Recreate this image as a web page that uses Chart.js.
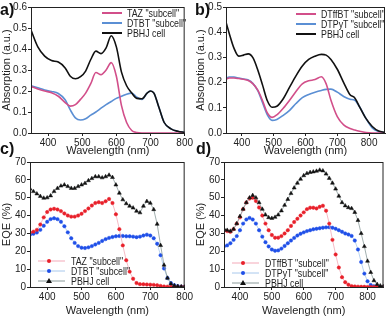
<!DOCTYPE html>
<html lang="en">
<head>
<meta charset="UTF-8" />
<title>Absorption and EQE</title>
<script src="https://cdn.jsdelivr.net/npm/chart.js"></script>
<style>
  body { margin: 0; background: #fff; font-family: "Liberation Sans", Arial, sans-serif; }
  #wrap { position: relative; width: 388px; height: 318px; overflow: hidden; }
  canvas { position: absolute; }
  .tag { position: absolute; font-weight: bold; font-size: 16px; color: #111; }
  .leg { position: absolute; font-size: 10.5px; color: #222; line-height: 10px; white-space: nowrap; }
  .leg div { height: 10px; display: flex; align-items: center; }
  .leg svg { margin-right: 3px; flex: none; }
  .leg span { display: inline-block; transform: scaleX(0.84); transform-origin: left center; }
</style>
</head>
<body>
<div id="wrap">
  <canvas id="chartA" width="194" height="158" style="left:0;top:0"></canvas>
  <canvas id="chartB" width="194" height="158" style="left:194px;top:0"></canvas>
  <canvas id="chartC" width="194" height="163" style="left:0;top:155px"></canvas>
  <canvas id="chartD" width="194" height="163" style="left:194px;top:155px"></canvas>

  <div class="tag" style="left:0;top:1px">a)</div>
  <div class="tag" style="left:195px;top:1px">b)</div>
  <div class="tag" style="left:0;top:140px">c)</div>
  <div class="tag" style="left:196px;top:140px">d)</div>

  <div class="leg" id="legA" style="left:102px;top:8px"></div>
  <div class="leg" id="legB" style="left:296px;top:9px"></div>
  <div class="leg" id="legC" style="left:38px;top:256px"></div>
  <div class="leg" id="legD" style="left:232px;top:258px"></div>
</div>

<script>
  // a) absorption, TAZ / DTBT
  const wlA = [350, 370, 390, 410, 430, 450, 465, 480, 495, 510, 525, 540, 555, 570, 585, 600, 615, 630, 645, 660, 675, 690, 700, 710, 725, 740, 760, 780, 800];
  const tazAbs = [0.221, 0.21, 0.2, 0.192, 0.175, 0.145, 0.128, 0.135, 0.16, 0.19, 0.235, 0.288, 0.278, 0.3, 0.335, 0.27, 0.13, 0.05, 0.012, 0.002, 0, 0, 0, 0, 0, 0, 0, 0, 0];
  const dtbtAbs = [0.225, 0.215, 0.205, 0.198, 0.188, 0.158, 0.11, 0.072, 0.062, 0.068, 0.085, 0.1, 0.118, 0.135, 0.15, 0.165, 0.175, 0.185, 0.19, 0.17, 0.16, 0.19, 0.2, 0.19, 0.12, 0.05, 0.02, 0.008, 0.003];
  const pbhjAbsA = [0.49, 0.41, 0.366, 0.345, 0.338, 0.31, 0.27, 0.258, 0.268, 0.295, 0.35, 0.39, 0.378, 0.405, 0.463, 0.41, 0.29, 0.225, 0.19, 0.165, 0.163, 0.19, 0.2, 0.19, 0.12, 0.05, 0.02, 0.008, 0.003];

  // b) absorption, DTffBT / DTPyT
  const wlB = [350, 360, 375, 390, 405, 420, 435, 450, 465, 480, 495, 510, 530, 550, 570, 590, 610, 630, 650, 665, 680, 700, 720, 740, 755, 770, 790, 810, 830, 850];
  const dtffbtAbs = [0.214, 0.218, 0.218, 0.216, 0.213, 0.208, 0.195, 0.17, 0.128, 0.08, 0.062, 0.072, 0.098, 0.13, 0.165, 0.195, 0.207, 0.212, 0.223, 0.195, 0.13, 0.065, 0.032, 0.018, 0.012, 0.007, 0.002, 0, 0, 0];
  const dtpytAbs = [0.218, 0.222, 0.222, 0.218, 0.214, 0.21, 0.196, 0.168, 0.12, 0.072, 0.05, 0.054, 0.07, 0.09, 0.117, 0.14, 0.153, 0.162, 0.169, 0.173, 0.174, 0.162, 0.145, 0.134, 0.13, 0.104, 0.058, 0.02, 0.006, 0.002];
  const pbhjAbsB = [0.44, 0.396, 0.337, 0.305, 0.309, 0.314, 0.298, 0.25, 0.19, 0.128, 0.102, 0.106, 0.136, 0.182, 0.227, 0.266, 0.292, 0.305, 0.312, 0.309, 0.292, 0.253, 0.2, 0.152, 0.139, 0.104, 0.058, 0.026, 0.008, 0.003];

  // c) EQE, TAZ / DTBT
  const wlC = [350, 360, 370, 380, 390, 400, 410, 420, 430, 440, 450, 460, 470, 480, 490, 500, 510, 520, 530, 540, 550, 560, 570, 580, 590, 600, 610, 620, 630, 640, 650, 660, 670, 680, 690, 700, 710, 720, 730, 740, 750, 760, 770, 780, 790, 800];
  const tazEqe = [30.5, 31, 32, 35, 39, 42, 43.4, 43.8, 43.4, 42.5, 41.2, 40, 39.4, 39.4, 40, 41, 42.5, 44, 45.6, 47, 47.5, 47, 48, 49.3, 47, 40.7, 32.4, 23.3, 15, 8.6, 4.6, 2.2, 1.6, 1.5, 1.4, 1.3, 1.2, 1, 0.6, 0.3, 0.2, 0.1, 0.1, 0, 0, 0];
  const dtbtEqe = [29.3, 29.8, 30.5, 32, 34.3, 36.5, 38, 38.5, 38, 36.5, 34, 30.6, 27.3, 24.7, 22.9, 22, 21.8, 22.2, 22.9, 23.8, 24.7, 25.8, 26.8, 27.5, 28, 28.4, 28.6, 28.6, 28.4, 28.4, 28.2, 27.9, 28.2, 28.8, 29.3, 28.8, 27.3, 24.2, 17.8, 10.4, 5, 2.2, 1, 0.5, 0.2, 0];
  const pbhjEqeC = [55, 53.5, 52.2, 50.8, 49.8, 50, 51.1, 53.5, 55.3, 56.6, 57.2, 56.3, 55.3, 55.3, 56.3, 57.2, 58.1, 59.6, 60.8, 61.8, 61.8, 61.2, 61.8, 62.7, 61.4, 57.2, 52.6, 48.9, 46.7, 45.3, 44.3, 42.5, 41.6, 45.3, 48, 47, 43.4, 35.2, 23.3, 12.3, 5, 1.8, 0.8, 0.4, 0.2, 0.1];

  // d) EQE, DTffBT / DTPyT
  const wlD = [350, 360, 370, 380, 390, 400, 410, 420, 430, 440, 450, 460, 470, 480, 490, 500, 510, 520, 530, 540, 550, 560, 570, 580, 590, 600, 610, 620, 630, 640, 650, 660, 670, 680, 690, 700, 710, 720, 730, 740, 750, 760, 770, 780, 790, 800, 810, 820, 830, 840, 850];
  const dtffbtEqe = [31.5, 31.3, 30.9, 32.4, 35.5, 39, 43.6, 47.3, 49.5, 50, 48.2, 44.5, 40, 35.5, 31.8, 29.1, 27.6, 27.6, 28.5, 30, 31.8, 34.2, 36.4, 38.2, 40, 41.8, 43.6, 44.4, 44.4, 44, 44.9, 45.5, 42.7, 35.5, 26.4, 18.2, 10.9, 5.5, 2.7, 1.3, 0.5, 0.3, 0.2, 0.1, 0.1, 0, 0, 0, 0, 0, 0];
  const dtpytEqe = [22.8, 23.3, 24.5, 26.4, 28.5, 31.8, 35.5, 37.8, 38.7, 37.8, 35.5, 31.8, 28.2, 25.1, 22.7, 21, 20.3, 20.5, 21.5, 23, 24.5, 26, 27.5, 28.8, 29.8, 30.6, 31.3, 31.8, 32.3, 32.6, 32.9, 33.2, 33.4, 33.5, 33.2, 32.6, 31.8, 30.9, 30, 29.4, 28.6, 26, 21, 14, 7.5, 3.2, 1.1, 0.4, 0.1, 0, 0];
  const pbhjEqeD = [32.5, 31.8, 31.3, 32.4, 35.5, 39.6, 43.6, 47.3, 50, 51.3, 50, 47.3, 43.6, 40.4, 38.9, 38.5, 39.1, 40.4, 42.7, 45.8, 49.1, 52.4, 55.5, 58.2, 60.4, 62.4, 63.6, 64.2, 64.5, 64.9, 65.5, 65.1, 63.3, 60.9, 58.2, 54.9, 50.9, 47.3, 45.5, 44.5, 44, 41.8, 37.3, 30, 22.7, 14.5, 8.2, 3.6, 1.5, 0.7, 0.4];

  const xTicksShort = [400, 500, 600, 700, 800];

  Chart.defaults.font.family = '"Liberation Sans", Arial, sans-serif';
  Chart.defaults.color = '#222';

  const pink = '#d24f8a', lightBlue = '#5b8fd4', black = '#111';
  const red = '#e8202a', blue = '#1f4fe8';

  // draw the box round the plot
  const frame = {
    id: 'frame',
    afterDraw(chart) {
      const a = chart.chartArea, ctx = chart.ctx;
      ctx.save();
      ctx.strokeStyle = '#222';
      ctx.lineWidth = 1;
      ctx.strokeRect(a.left + 0.5, a.top + 0.5, a.right - a.left - 1, a.bottom - a.top);
      ctx.restore();
    }
  };

  const pts = (xs, ys) => xs.map((x, i) => ({ x, y: ys[i] }));

  function makeChart(id, cfg) {
    new Chart(document.getElementById(id), {
      type: 'line',
      data: { datasets: cfg.datasets },
      plugins: [frame],
      options: {
        responsive: false,
        animation: false,
        devicePixelRatio: 1,
        layout: { padding: { top: 5, right: cfg.right, left: 0, bottom: 0 } },
        plugins: { legend: { display: false }, tooltip: { enabled: false } },
        scales: {
          x: {
            type: 'linear', min: cfg.xMin, max: cfg.xMax,
            afterBuildTicks: s => { s.ticks = xTicksShort.map(v => ({ value: v })); },
            afterFit: s => { s.height = cfg.xHeight; },
            ticks: { font: { size: 10 }, padding: 1, maxRotation: 0, color: '#222' },
            grid: { drawOnChartArea: false, tickLength: 3, color: '#222' },
            border: { color: '#222' },
            title: { display: true, text: 'Wavelength (nm)', font: { size: 11 }, padding: { top: 0, bottom: 0 }, color: '#222' }
          },
          y: {
            min: 0, max: cfg.yMax,
            ticks: { stepSize: cfg.yStep, font: { size: 10 }, padding: 1, color: '#222',
              callback: v => cfg.yStep < 1 ? v.toFixed(1) : v },
            afterFit: s => { s.width = cfg.yWidth; },
            grid: { drawOnChartArea: false, tickLength: 3, color: '#222' },
            border: { color: '#222' },
            title: { display: true, text: cfg.yTitle, font: { size: 11 }, padding: 0, color: '#222' }
          }
        }
      }
    });
  }

  const absLine = (data, color, order) => ({
    data, borderColor: color, borderWidth: 1.6, pointRadius: 0,
    cubicInterpolationMode: 'monotone', order
  });
  const eqeLine = (data, line, mark, style, order) => ({
    data, borderColor: line, borderWidth: 0.8,
    pointRadius: style === 'triangle' ? 2.3 : 1.7, pointStyle: style,
    pointBackgroundColor: mark, pointBorderColor: mark, pointBorderWidth: 0.5,
    order
  });

  makeChart('chartA', {
    xMin: 350, xMax: 800, yMax: 0.6, yStep: 0.1, yTitle: 'Absorption (a.u.)',
    yWidth: 31, xHeight: 25, right: 4,
    datasets: [
      absLine(pts(wlA, tazAbs), pink, 1),
      absLine(pts(wlA, dtbtAbs), lightBlue, 2),
      absLine(pts(wlA, pbhjAbsA), black, 0)
    ]
  });
  makeChart('chartB', {
    xMin: 350, xMax: 850, yMax: 0.5, yStep: 0.1, yTitle: 'Absorption (a.u.)',
    yWidth: 32, xHeight: 25, right: 3,
    datasets: [
      absLine(pts(wlB, dtffbtAbs), pink, 1),
      absLine(pts(wlB, dtpytAbs), lightBlue, 2),
      absLine(pts(wlB, pbhjAbsB), black, 0)
    ]
  });
  makeChart('chartC', {
    xMin: 350, xMax: 800, yMax: 70, yStep: 10, yTitle: 'EQE (%)',
    yWidth: 30, xHeight: 31, right: 4,
    datasets: [
      eqeLine(pts(wlC, tazEqe), '#f3a9b8', red, 'circle', 1),
      eqeLine(pts(wlC, dtbtEqe), '#a8c8ec', blue, 'circle', 2),
      eqeLine(pts(wlC, pbhjEqeC), '#8a9a9a', black, 'triangle', 0)
    ]
  });
  makeChart('chartD', {
    xMin: 350, xMax: 850, yMax: 70, yStep: 10, yTitle: 'EQE (%)',
    yWidth: 30, xHeight: 31, right: 3,
    datasets: [
      eqeLine(pts(wlD, dtffbtEqe), '#f3a9b8', red, 'circle', 1),
      eqeLine(pts(wlD, dtpytEqe), '#a8c8ec', blue, 'circle', 2),
      eqeLine(pts(wlD, pbhjEqeD), '#8a9a9a', black, 'triangle', 0)
    ]
  });

  // legends
  function lineLegend(id, items) {
    document.getElementById(id).innerHTML = items.map(([name, color]) =>
      `<div><svg width="22" height="6"><line x1="0" y1="3" x2="20" y2="3" stroke="${color}" stroke-width="2"/></svg><span>${name}</span></div>`
    ).join('');
  }
  function markLegend(id, items) {
    document.getElementById(id).innerHTML = items.map(([name, line, mark, tri]) => {
      const m = tri
        ? `<polygon points="11,1 14,6 8,6" fill="${mark}"/>`
        : `<circle cx="11" cy="4" r="2" fill="${mark}"/>`;
      return `<div><svg width="30" height="8"><line x1="0" y1="4" x2="27" y2="4" stroke="${line}" stroke-width="1"/>${m}</svg><span>${name}</span></div>`;
    }).join('');
  }

  lineLegend('legA', [['TAZ "subcell"', pink], ['DTBT "subcell"', lightBlue], ['PBHJ cell', black]]);
  lineLegend('legB', [['DTffBT "subcell"', pink], ['DTPyT "subcell"', lightBlue], ['PBHJ cell', black]]);
  markLegend('legC', [['TAZ "subcell"', '#f3a9b8', red], ['DTBT "subcell"', '#a8c8ec', blue], ['PBHJ cell', '#8a9a9a', black, true]]);
  markLegend('legD', [['DTffBT "subcell"', '#f3a9b8', red], ['DTPyT "subcell"', '#a8c8ec', blue], ['PBHJ cell', '#8a9a9a', black, true]]);
</script>
</body>
</html>
